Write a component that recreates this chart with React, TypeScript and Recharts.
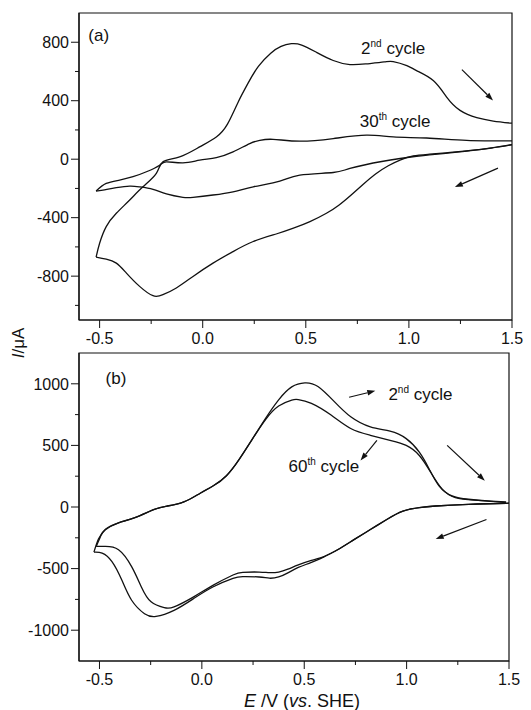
import { LineChart, Line, XAxis, YAxis, ReferenceArea, ReferenceLine, ReferenceDot } from "recharts";

const ink = "#111";
const font = "'Liberation Sans', Arial, Helvetica, sans-serif";

// potential E (V vs. SHE) and current I (µA), one branch per array pair

// (a) 2nd cycle
const a2ndAnodicE = [-0.517, -0.5, -0.468, -0.419, -0.354, -0.29, -0.225, -0.193, -0.112, -0.015, 0.066, 0.12, 0.17, 0.22, 0.27, 0.33, 0.38, 0.43, 0.48, 0.552, 0.633, 0.714, 0.794, 0.88, 0.924, 0.99, 1.037, 1.118, 1.183, 1.248, 1.329, 1.409, 1.5];
const a2ndAnodicI = [-670, -575, -461, -370, -279, -189, -97, -18, 16, 84, 152, 240, 385, 520, 635, 725, 772, 790, 781, 731, 675, 647, 652, 665, 668, 640, 606, 538, 425, 334, 284, 261, 246];
const a2ndCathodicE = [1.5, 1.4, 1.3, 1.2, 1.1, 1.021, 0.96, 0.9, 0.84, 0.78, 0.72, 0.66, 0.6, 0.52, 0.44, 0.36, 0.245, 0.147, 0.05, -0.047, -0.128, -0.193, -0.241, -0.306, -0.37, -0.419, -0.468, -0.517];
const a2ndCathodicI = [100, 78, 60, 46, 34, 22, -5, -45, -100, -170, -245, -315, -370, -427, -472, -510, -563, -632, -711, -802, -881, -927, -934, -870, -779, -711, -684, -670];

// (a) 30th cycle
const a30thAnodicE = [-0.517, -0.468, -0.403, -0.338, -0.273, -0.209, -0.176, -0.096, -0.015, 0.066, 0.147, 0.228, 0.277, 0.341, 0.471, 0.633, 0.794, 0.924, 1.086, 1.28, 1.5];
const a30thAnodicI = [-218, -166, -143, -120, -86, -41, -18, -25, -7, 11, 50, 107, 129, 136, 123, 141, 164, 152, 145, 129, 125];
const a30thCathodicE = [1.5, 1.4, 1.3, 1.199, 1.1, 1.037, 0.875, 0.714, 0.633, 0.471, 0.374, 0.245, 0.147, 0.05, -0.047, -0.096, -0.176, -0.241, -0.306, -0.354, -0.419, -0.484, -0.517];
const a30thCathodicI = [98, 76, 58, 43, 30, 20, -14, -63, -91, -109, -150, -189, -223, -245, -261, -261, -238, -206, -189, -184, -195, -211, -218];

// (b) 2nd cycle
const b2ndAnodicE = [-0.527, -0.505, -0.471, -0.407, -0.327, -0.232, -0.168, -0.088, -0.008, 0.056, 0.12, 0.184, 0.248, 0.312, 0.375, 0.439, 0.503, 0.567, 0.647, 0.727, 0.823, 0.919, 0.998, 1.062, 1.11, 1.158, 1.222, 1.302, 1.398, 1.486];
const b2ndAnodicI = [-366, -260, -185, -128, -87, -19, 8, 41, 112, 172, 254, 391, 555, 722, 870, 975, 1008, 978, 855, 732, 650, 615, 555, 445, 309, 172, 90, 63, 49, 41];
const b2ndCathodicE = [1.5, 1.486, 1.302, 1.142, 1.062, 0.982, 0.903, 0.823, 0.743, 0.663, 0.599, 0.535, 0.471, 0.42, 0.375, 0.33, 0.28, 0.2, 0.152, 0.056, -0.04, -0.136, -0.224, -0.28, -0.343, -0.391, -0.439, -0.487, -0.527];
const b2ndCathodicI = [36, 30, 22, 8, -5, -33, -101, -183, -265, -347, -402, -450, -490, -535, -568, -578, -568, -565, -579, -647, -743, -839, -888, -866, -757, -593, -443, -374, -366];

// (b) 60th cycle
const b60thAnodicE = [-0.516, -0.495, -0.471, -0.407, -0.327, -0.232, -0.168, -0.088, -0.008, 0.056, 0.12, 0.184, 0.248, 0.312, 0.375, 0.439, 0.471, 0.535, 0.631, 0.727, 0.823, 0.919, 0.998, 1.062, 1.118, 1.174, 1.238, 1.334, 1.486];
const b60thAnodicI = [-320, -240, -180, -128, -87, -19, 8, 41, 112, 172, 254, 391, 555, 712, 820, 868, 872, 841, 746, 637, 582, 541, 500, 418, 281, 145, 76, 55, 36];
const b60thCathodicE = [1.5, 1.486, 1.302, 1.142, 1.062, 0.982, 0.903, 0.823, 0.743, 0.663, 0.599, 0.535, 0.471, 0.42, 0.375, 0.33, 0.28, 0.2, 0.152, 0.056, -0.04, -0.136, -0.184, -0.248, -0.296, -0.343, -0.407, -0.471, -0.516];
const b60thCathodicI = [36, 30, 22, 8, -5, -33, -101, -183, -265, -347, -400, -434, -470, -505, -528, -533, -528, -530, -552, -634, -729, -811, -817, -770, -647, -484, -347, -320, -320];

// axes
const xDomain = [-0.6, 1.5];
const xMajor = [-0.5, 0, 0.5, 1, 1.5];
const xMinor = [-0.25, 0.25, 0.75, 1.25];
const aYDomain = [-1100, 1000];
const aYMajor = [-800, -400, 0, 400, 800];
const aYMinor = [-1000, -600, -200, 200, 600];
const bYDomain = [-1250, 1250];
const bYMajor = [-1000, -500, 0, 500, 1000];
const bYMinor = [-750, -250, 250, 750];

type Pt = { e: number; i: number };
const zip = (e: number[], i: number[]): Pt[] => e.map((v, k) => ({ e: v, i: i[k] }));

function XTick(p: any) {
  const { x, y, payload } = p;
  const major = xMajor.includes(payload.value);
  return (
    <g>
      <line x1={x} x2={x} y1={y} y2={y + (major ? 8 : 4)} stroke={ink} strokeWidth={1} />
      {major && (
        <text x={x} y={y + 24} textAnchor="middle" fontSize={16} fontFamily={font} fill={ink}>
          {payload.value.toFixed(1)}
        </text>
      )}
    </g>
  );
}

function YTick(p: any) {
  const { x, y, payload, majors } = p;
  const major = majors.includes(payload.value);
  return (
    <g>
      <line x1={x} x2={x - (major ? 8 : 4)} y1={y} y2={y} stroke={ink} strokeWidth={1} />
      {major && (
        <text x={x - 10} y={y} dy="0.36em" textAnchor="end" fontSize={16} fontFamily={font} fill={ink}>
          {payload.value}
        </text>
      )}
    </g>
  );
}

function Arrow(p: any) {
  const { x1, y1, x2, y2 } = p;
  const a = Math.atan2(y2 - y1, x2 - x1);
  const bx = x2 - 8 * Math.cos(a);
  const by = y2 - 8 * Math.sin(a);
  const px = -Math.sin(a) * 2.8;
  const py = Math.cos(a) * 2.8;
  return (
    <g>
      <line x1={x1} y1={y1} x2={bx} y2={by} stroke={ink} strokeWidth={1.2} />
      <polygon points={`${x2},${y2} ${bx + px},${by + py} ${bx - px},${by - py}`} fill={ink} />
    </g>
  );
}

function cycleText(num: string, sup: string) {
  return (p: any) => (
    <text x={p.cx} y={p.cy} fontSize={17} fontFamily={font} fill={ink}>
      {num}
      <tspan dy={-7} fontSize={10}>{sup}</tspan>
      <tspan dy={7}>{" cycle"}</tspan>
    </text>
  );
}

function plainText(s: string) {
  return (p: any) => (
    <text x={p.cx} y={p.cy} fontSize={17} fontFamily={font} fill={ink}>
      {s}
    </text>
  );
}

type Note = { e: number; i: number; shape: (p: any) => any };
type Arr = [number, number, number, number];

function Panel(props: {
  height: number;
  right: number;
  axisH: number;
  yDomain: number[];
  yMajor: number[];
  yMinor: number[];
  loops: Pt[][];
  notes: Note[];
  arrows: Arr[];
}) {
  const { height, right, axisH, yDomain, yMajor, yMinor, loops, notes, arrows } = props;
  const yTicks = [...yMajor, ...yMinor].sort((a, b) => a - b);
  const xTicks = [...xMajor, ...xMinor].sort((a, b) => a - b);
  return (
    <LineChart width={531} height={height} margin={{ top: 13, right, left: 0, bottom: 0 }}>
      <XAxis
        type="number"
        dataKey="e"
        domain={xDomain}
        ticks={xTicks}
        interval={0}
        allowDataOverflow
        height={axisH}
        tickSize={0}
        tickMargin={0}
        tickLine={false}
        axisLine={{ stroke: ink, strokeWidth: 1.2 }}
        tick={(p: any) => <XTick {...p} />}
      />
      <YAxis
        type="number"
        dataKey="i"
        domain={yDomain}
        ticks={yTicks}
        interval={0}
        allowDataOverflow
        width={79}
        tickSize={0}
        tickMargin={0}
        tickLine={false}
        axisLine={{ stroke: ink, strokeWidth: 1.2 }}
        tick={(p: any) => <YTick {...p} majors={yMajor} />}
      />
      <ReferenceArea
        x1={xDomain[0]}
        x2={xDomain[1]}
        y1={yDomain[0]}
        y2={yDomain[1]}
        fill="none"
        stroke={ink}
        strokeWidth={1.2}
        fillOpacity={0}
      />
      {loops.map((d, k) => (
        <Line
          key={k}
          data={d}
          dataKey="i"
          type="natural"
          stroke={ink}
          strokeWidth={1.3}
          dot={false}
          activeDot={false}
          isAnimationActive={false}
        />
      ))}
      {arrows.map((a, k) => (
        <ReferenceLine
          key={"a" + k}
          segment={[
            { x: a[0], y: a[1] },
            { x: a[2], y: a[3] },
          ]}
          shape={(p: any) => <Arrow {...p} />}
        />
      ))}
      {notes.map((n, k) => (
        <ReferenceDot key={"n" + k} x={n.e} y={n.i} r={1} shape={n.shape} />
      ))}
    </LineChart>
  );
}

export default function App() {
  const aLoops = [
    zip(a2ndAnodicE, a2ndAnodicI),
    zip(a2ndCathodicE, a2ndCathodicI),
    zip(a30thAnodicE, a30thAnodicI),
    zip(a30thCathodicE, a30thCathodicI),
  ];
  const bLoops = [
    zip(b2ndAnodicE, b2ndAnodicI),
    zip(b2ndCathodicE, b2ndCathodicI),
    zip(b60thAnodicE, b60thAnodicI),
    zip(b60thCathodicE, b60thCathodicI),
  ];
  const aNotes: Note[] = [
    { e: -0.555, i: 811, shape: plainText("(a)") },
    { e: 0.768, i: 722, shape: cycleText("2", "nd") },
    { e: 0.762, i: 218, shape: cycleText("30", "th") },
  ];
  const bNotes: Note[] = [
    { e: -0.47, i: 1000, shape: plainText("(b)") },
    { e: 0.911, i: 869, shape: cycleText("2", "nd") },
    { e: 0.423, i: 287, shape: cycleText("60", "th") },
  ];
  const aArrows: Arr[] = [
    [1.257, 613, 1.408, 402],
    [1.432, -61, 1.223, -191],
  ];
  const bArrows: Arr[] = [
    [0.719, 891, 0.847, 943],
    [0.855, 541, 0.775, 377],
    [1.198, 500, 1.382, 213],
    [1.39, -101, 1.142, -260],
  ];

  return (
    <div style={{ position: "absolute", left: 0, top: 0, width: 531, height: 710, background: "#fff", fontFamily: font, overflow: "hidden" }}>
      <div style={{ position: "absolute", left: 0, top: 0 }}>
        <Panel height={352} right={19} axisH={32} yDomain={aYDomain} yMajor={aYMajor} yMinor={aYMinor} loops={aLoops} notes={aNotes} arrows={aArrows} />
      </div>
      <div style={{ position: "absolute", left: 0, top: 340 }}>
        <Panel height={350} right={22} axisH={29} yDomain={bYDomain} yMajor={bYMajor} yMinor={bYMinor} loops={bLoops} notes={bNotes} arrows={bArrows} />
      </div>
      <div
        style={{
          position: "absolute",
          left: -11,
          top: 333,
          width: 60,
          height: 20,
          lineHeight: "20px",
          textAlign: "center",
          fontSize: 17,
          color: ink,
          transform: "rotate(-90deg)",
        }}
      >
        <i>I</i>/μA
      </div>
      <div
        style={{
          position: "absolute",
          left: 0,
          top: 691,
          width: 604,
          height: 20,
          lineHeight: "20px",
          textAlign: "center",
          fontSize: 18,
          color: ink,
          whiteSpace: "pre",
        }}
      >
        <i>E</i> /V (<i>vs</i>. SHE)
      </div>
    </div>
  );
}
